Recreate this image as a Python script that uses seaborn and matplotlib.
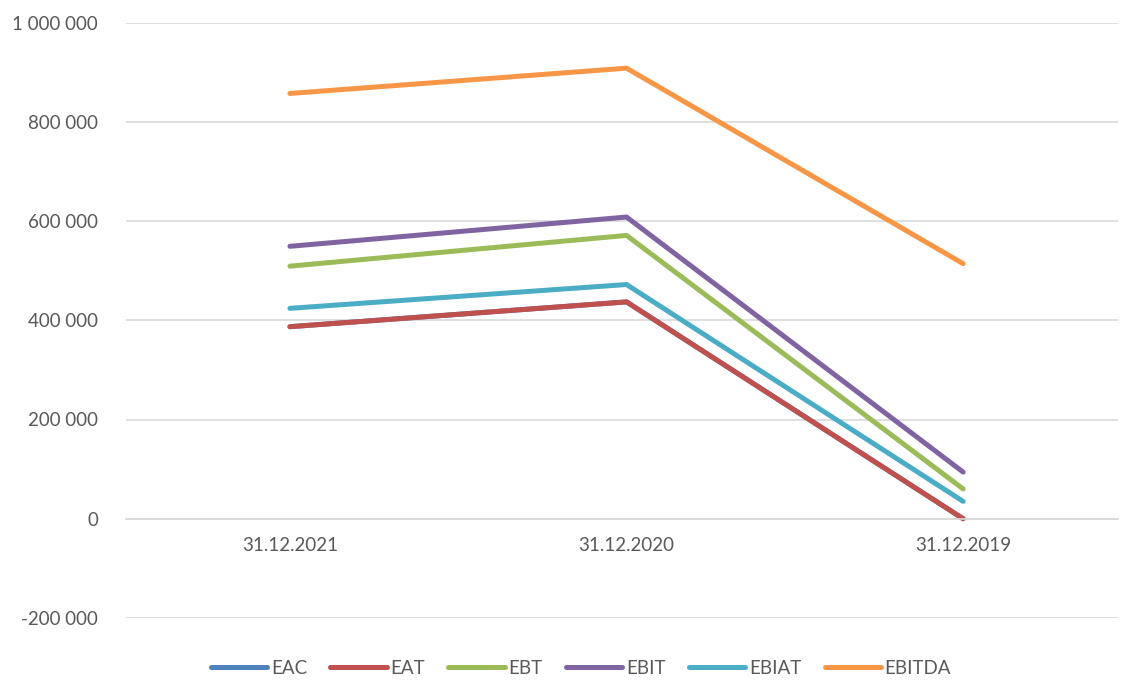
import seaborn as sns
import matplotlib.pyplot as plt
import pandas as pd

dates = ["31.12.2021", "31.12.2020", "31.12.2019"]
series_names = ["EAC", "EAT", "EBT", "EBIT", "EBIAT", "EBITDA"]
eac = [387000, 437000, 0]
eat = [387000, 437000, 0]
ebt = [509000, 571000, 60000]
ebit = [549000, 608000, 94000]
ebiat = [424000, 472000, 35000]
ebitda = [857000, 908000, 514000]
colors = ["#4F81BD", "#C0504D", "#9BBB59", "#8064A2", "#4BACC6", "#F79646"]

rows = []
for name, vals in zip(series_names, [eac, eat, ebt, ebit, ebiat, ebitda]):
	for i, v in enumerate(vals):
		rows.append({"pos": i, "date": dates[i], "series": name, "value": v})
df = pd.DataFrame(rows)

sns.set_style("white")
plt.rcParams["font.family"] = ["Lato", "DejaVu Sans"]

fig = plt.figure(figsize=(11.21, 6.8), dpi=100)
ax = fig.add_axes([126 / 1121, 62 / 680, (1118 - 126) / 1121, (618 - 22.5) / 680])

sns.lineplot(data=df, x="pos", y="value", hue="series", hue_order=series_names,
	palette=colors, linewidth=3.6, solid_capstyle="round", ax=ax, legend=False)

ax.set_xlim(-0.487, 2.46)
ax.set_ylim(-200000, 1000000)
ax.set_yticks(range(-200000, 1000001, 200000))
ax.set_yticklabels(["{:,}".format(t).replace(",", " ") for t in range(-200000, 1000001, 200000)])
ax.set_xticks(range(len(dates)))
ax.set_xticklabels(dates)
ax.set_xlabel("")
ax.set_ylabel("")

ax.grid(axis="y", color="#D9D9D9", linewidth=1.2)
ax.set_axisbelow(True)
for s in ["top", "right", "left"]:
	ax.spines[s].set_visible(False)
ax.spines["bottom"].set_position(("data", 0))
ax.spines["bottom"].set_color("#D9D9D9")
ax.spines["bottom"].set_linewidth(1.2)
ax.tick_params(axis="both", length=0, labelsize=13.5, colors="#595959")
ax.tick_params(axis="y", pad=20)
ax.tick_params(axis="x", pad=13)

handles = [plt.Line2D([], [], color=c, linewidth=3.6, solid_capstyle="round") for c in colors]
leg = fig.legend(handles, series_names, loc="center", bbox_to_anchor=(581 / 1121, 1 - 668 / 680),
	ncol=6, frameon=False, fontsize=13.5, handlelength=3.0, handletextpad=0.2, columnspacing=1.25)
for t in leg.get_texts():
	t.set_color("#595959")

plt.savefig("out.png", dpi=100)
